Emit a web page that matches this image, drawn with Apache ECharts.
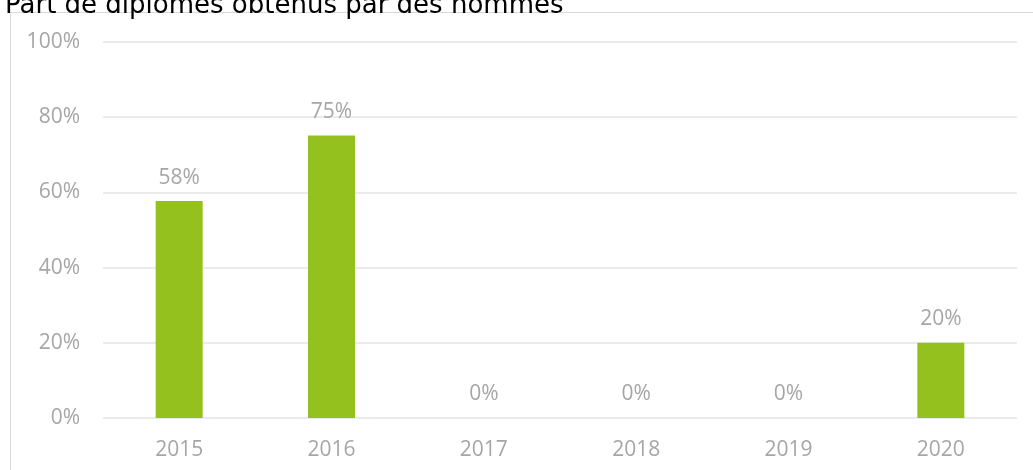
<!DOCTYPE html>
<html>
<head>
<meta charset="utf-8">
<style>
  html, body { margin: 0; padding: 0; background: #fff; }
  #chart { width: 1033px; height: 470px; }
</style>
<script src="https://cdn.jsdelivr.net/npm/echarts@6/dist/echarts.min.js"></script>
</head>
<body>
<div id="chart"></div>
<script>
const TITLE = 'Part de diplômes obtenus par des hommes'
const YEARS = ['2015', '2016', '2017', '2018', '2019', '2020']
const SHARE_MEN = [57.7, 75.1, 0, 0, 0, 20]
const Y_TICKS = [0, 20, 40, 60, 80, 100]

const GREEN = '#95c11f'
const GREY_TEXT = '#a6a6a6'
const FONT = '"Open Sans", "Noto Sans", sans-serif'

const chart = echarts.init(document.getElementById('chart'), null, { renderer: 'canvas' })

const option = {
  backgroundColor: '#fff',
  animation: false,
  title: {
    text: TITLE,
    left: 0,
    top: -12,
    textStyle: { color: '#000', fontSize: 26, fontWeight: 'normal', fontFamily: '"DejaVu Sans", sans-serif' }
  },
  graphic: [
    {
      type: 'rect',
      shape: { x: 10.5, y: 12.5, width: 1040, height: 480 },
      style: { fill: 'none', stroke: '#d9d9d9', lineWidth: 1 },
      z: -1
    }
  ],
  grid: { left: 103, right: 16, top: 42, bottom: 52 },
  xAxis: {
    type: 'category',
    data: YEARS,
    axisLine: { show: false },
    axisTick: { show: false },
    axisLabel: { color: GREY_TEXT, fontSize: 21, fontFamily: FONT, margin: 22 }
  },
  yAxis: {
    type: 'value',
    min: Y_TICKS[0],
    max: Y_TICKS[Y_TICKS.length - 1],
    interval: 20,
    axisLine: { show: false },
    axisTick: { show: false },
    axisLabel: {
      color: GREY_TEXT, fontSize: 21, fontFamily: FONT, margin: 23,
      formatter: '{value}%'
    },
    splitLine: { lineStyle: { color: '#ebebeb', width: 2 } }
  },
  series: [
    {
      type: 'bar',
      data: SHARE_MEN,
      barWidth: 47,
      itemStyle: { color: GREEN },
      label: {
        show: true,
        position: 'top',
        distance: 13,
        color: GREY_TEXT,
        fontSize: 21,
        fontFamily: FONT,
        formatter: p => Math.round(p.value) + '%'
      }
    }
  ]
}

chart.setOption(option)
</script>
</body>
</html>
